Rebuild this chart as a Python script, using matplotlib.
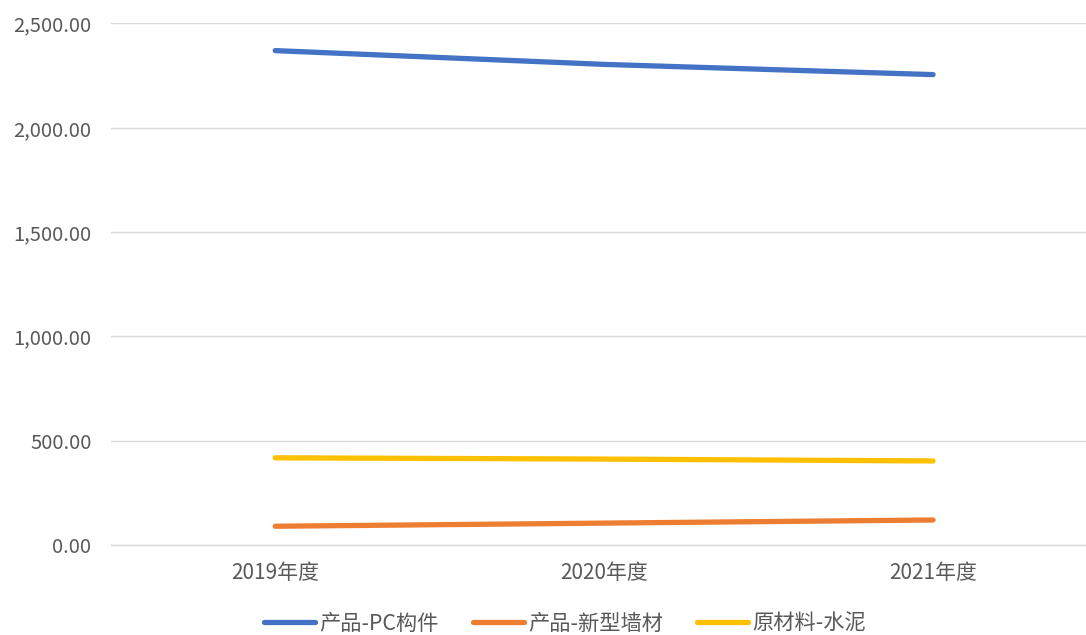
import matplotlib
matplotlib.use("Agg")
import matplotlib.pyplot as plt
from matplotlib.ticker import FuncFormatter

plt.rcParams['font.family'] = ['Noto Sans CJK SC', 'DejaVu Sans']

years = ["2019年度", "2020年度", "2021年度"]
pc_parts = [2370, 2304, 2255]
wall_material = [90, 105, 120]
cement = [418, 412, 403]

names = ["产品-PC构件", "产品-新型墙材", "原材料-水泥"]
colors = ["#4472C4", "#ED7D31", "#FFC000"]

fig = plt.figure(figsize=(10.86, 6.35), dpi=100)
ax = fig.add_axes([0.102, 0.1417, 0.898, 0.8213])

x = range(len(years))
for vals, name, c in zip([pc_parts, wall_material, cement], names, colors):
    ax.plot(x, vals, color=c, lw=3.8, solid_capstyle='round', label=name)

ax.set_ylim(0, 2500)
ax.set_xlim(-0.5, 2.465)
ax.set_yticks([0, 500, 1000, 1500, 2000, 2500])
ax.yaxis.set_major_formatter(FuncFormatter(lambda v, p: f"{v:,.2f}"))
ax.set_xticks(list(x))
ax.set_xticklabels(years)
ax.grid(axis='y', color='#D9D9D9', lw=1)
ax.axhline(0, color='#D9D9D9', lw=1, clip_on=False, zorder=0)
ax.set_axisbelow(True)
for s in ax.spines.values():
    s.set_visible(False)
ax.tick_params(axis='both', length=0, labelcolor='#595959')
ax.tick_params(axis='x', pad=12, labelsize=15)
ax.tick_params(axis='y', pad=14, labelsize=14.5)

ax.legend(loc='upper center', bbox_to_anchor=(0.466, -0.093), ncol=3, frameon=False,
          fontsize=15.3, handlelength=2.4, columnspacing=1.6, handletextpad=0.2,
          labelcolor='#595959')

fig.savefig("out.png", dpi=100)
